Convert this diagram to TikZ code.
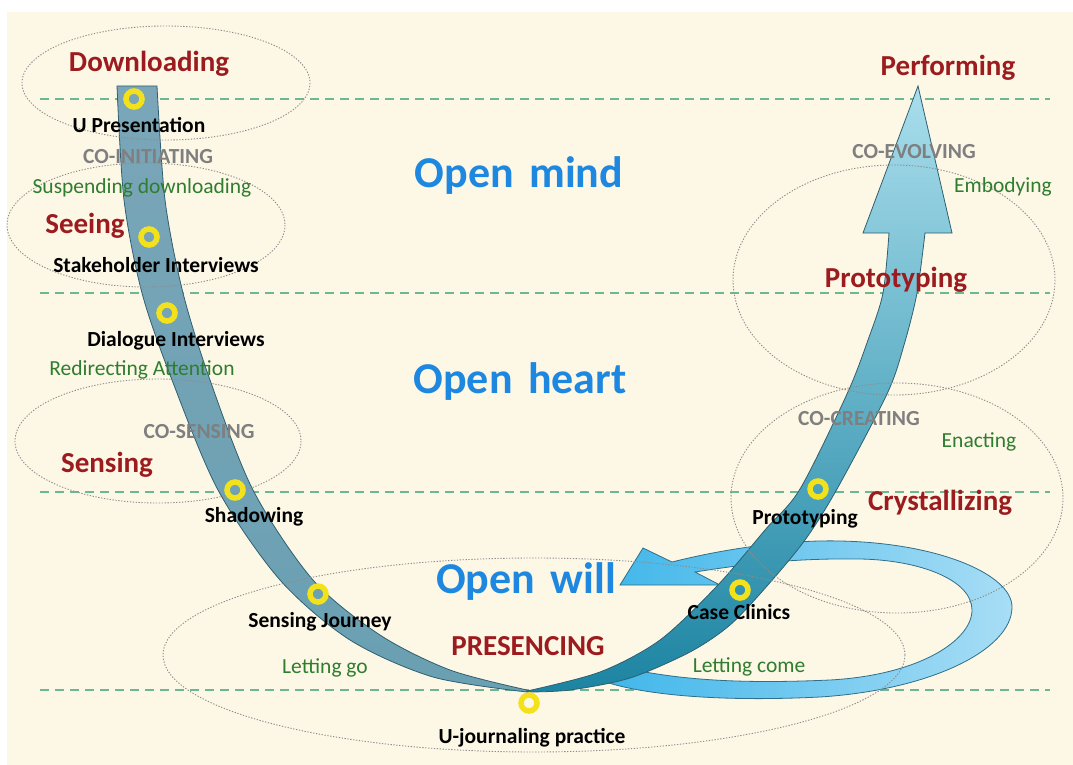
\documentclass[tikz,border=0pt]{standalone}
\usepackage{fontspec}
\setmainfont{Carlito}
\definecolor{cream}{HTML}{FDF7E6}
\definecolor{stagered}{HTML}{9B1B1E}
\definecolor{openblue}{HTML}{1E88E0}
\definecolor{cogrey}{HTML}{7F7F7F}
\definecolor{actgreen}{HTML}{2F7D2F}
\definecolor{dashgreen}{HTML}{6DB894}
\definecolor{ellgrey}{HTML}{8C8C8C}
\definecolor{armline}{HTML}{2F5F70}
\definecolor{lefttop}{HTML}{7AA6B8}
\definecolor{leftbot}{HTML}{69A0B2}
\definecolor{righttop}{HTML}{A9DEEC}
\definecolor{rightmid}{HTML}{4AA9C4}
\definecolor{rightbot}{HTML}{1C84A2}
\definecolor{loopleft}{HTML}{3FB6EA}
\definecolor{loopright}{HTML}{A8DDF5}
\definecolor{loopline}{HTML}{2F6F8A}
\definecolor{ringyellow}{HTML}{F3E21B}
\tikzset{
  stagelbl/.style={text=stagered, font=\fontsize{29}{31}\selectfont\bfseries, anchor=base, inner sep=0pt},
  openlbl/.style={text=openblue, font=\fontsize{44}{46}\selectfont\bfseries, anchor=base, inner sep=0pt},
  colbl/.style={text=cogrey, font=\fontsize{21.5}{23}\selectfont\bfseries, anchor=base, inner sep=0pt},
  actlbl/.style={text=actgreen, font=\fontsize{21.5}{23}\selectfont, anchor=base, inner sep=0pt},
  practlbl/.style={text=black, font=\fontsize{21.5}{23}\selectfont\bfseries, anchor=base, inner sep=0pt},
  levelline/.style={draw=dashgreen, line width=1.4pt, dash pattern=on 9pt off 6pt},
  fieldell/.style={draw=ellgrey, line width=0.9pt, dash pattern=on 1.3pt off 1.6pt},
  ringmark/.style={circle, draw=ringyellow, line width=5.5pt, minimum size=16pt, inner sep=0pt},
}
\begin{document}
\begin{tikzpicture}[x=1pt,y=-1pt]
\useasboundingbox (0,0) rectangle (1073,765);
\fill[white] (0,0) rectangle (1073,765);
\fill[cream] (7,12) rectangle (1073,765);
% level lines
\foreach \yy in {99,293,492,690} \draw[levelline] (40,\yy) -- (1050,\yy);
% loop arrow (behind the U)
\path[draw=loopline, line width=0.8pt, left color=loopleft, right color=loopright]
 (620,585) -- (643,548) -- (672,562)
 .. controls (740,545) and (800,540) .. (840,541)
 .. controls (940,543) and (1012,575) .. (1012,607)
 .. controls (1012,650) and (930,690) .. (820,697)
 .. controls (720,702) and (640,695) .. (600,680)
 -- (625,668)
 .. controls (680,680) and (740,684) .. (830,680)
 .. controls (920,675) and (972,640) .. (972,610)
 .. controls (972,580) and (920,560) .. (860,559)
 .. controls (790,558) and (740,565) .. (695,572)
 -- (720,585) -- cycle;
% left arm of the U
\path[draw=armline, line width=0.8pt, top color=lefttop, bottom color=leftbot]
 plot[smooth] coordinates {(117,86) (124,200) (142,293) (172,380) (218,490) (280,580) (350,640) (433,677) (527,692)}
 -- plot[smooth] coordinates {(527,690) (450,670) (380,635) (313,580) (253,490) (210,380) (183,293) (165,200) (157,86)}
 -- cycle;
% right arm of the U with arrow head
\path[draw=armline, line width=0.8pt, top color=righttop, middle color=rightmid, bottom color=rightbot]
 plot[smooth] coordinates {(527,691) (600,672) (660,640) (717,586) (765,530) (800,489) (847,394) (868,340) (883,293) (889,233)}
 -- (863,233) -- (918,86) -- (952,233) -- (925,233)
 -- plot[smooth] coordinates {(925,233) (917,293) (904,345) (887,394) (837,489) (805,540) (767,586) (730,625) (690,652) (630,678) (570,690) (527,692)}
 -- cycle;
% field ellipses
\draw[fieldell] (166,83) ellipse [x radius=144, y radius=57];
\draw[fieldell] (146,225) ellipse [x radius=139, y radius=62];
\draw[fieldell] (158,441) ellipse [x radius=143, y radius=62];
\draw[fieldell] (534,655) ellipse [x radius=371, y radius=97];
\draw[fieldell] (897,498) ellipse [x radius=166, y radius=115];
\draw[fieldell] (894,280) ellipse [x radius=161, y radius=115];
% practice markers
\node[ringmark] (m1) at (134,99) {};
\node[ringmark] (m2) at (149,237) {};
\node[ringmark] (m3) at (167,313) {};
\node[ringmark] (m4) at (235,490) {};
\node[ringmark] (m5) at (318,594) {};
\node[ringmark] (m6) at (529,703) {};
\node[ringmark] (m7) at (740,590) {};
\node[ringmark] (m8) at (818,489) {};
% open levels
\node[openlbl] (om) at (519,187) {Open\hspace{0.35em}mind};
\node[openlbl] (oh) at (520,393) {Open\hspace{0.35em}heart};
\node[openlbl] (ow) at (526,593) {Open\hspace{0.35em}will};
% stages
\node[stagelbl] (s1) at (149,72) {Downloading};
\node[stagelbl] (s2) at (85,233) {Seeing};
\node[stagelbl] (s3) at (107,472) {Sensing};
\node[stagelbl] (s4) at (528,655) {PRESENCING};
\node[stagelbl] (s5) at (940,510) {Crystallizing};
\node[stagelbl] (s6) at (896,287) {Prototyping};
\node[stagelbl] (s7) at (948,76) {Performing};
% co- movements
\node[colbl] (c1) at (148,163) {CO-INITIATING};
\node[colbl] (c2) at (199,438) {CO-SENSING};
\node[colbl] (c3) at (859,425) {CO-CREATING};
\node[colbl] (c4) at (914,158) {CO-EVOLVING};
% actions
\node[actlbl] (a1) at (142,193) {Suspending downloading};
\node[actlbl] (a2) at (142,375) {Redirecting Attention};
\node[actlbl] (a3) at (325,673) {Letting go};
\node[actlbl] (a4) at (749,672) {Letting come};
\node[actlbl] (a5) at (979,447) {Enacting};
\node[actlbl] (a6) at (1003,192) {Embodying};
% practices
\node[practlbl] (p1) at (139,132) {U Presentation};
\node[practlbl] (p2) at (156,272) {Stakeholder Interviews};
\node[practlbl] (p3) at (176,346) {Dialogue Interviews};
\node[practlbl] (p4) at (254,522) {Shadowing};
\node[practlbl] (p5) at (320,627) {Sensing Journey};
\node[practlbl] (p6) at (532,743) {U-journaling practice};
\node[practlbl] (p7) at (805,524) {Prototyping};
\node[practlbl] (p8) at (739,619) {Case Clinics};
\end{tikzpicture}
\end{document}
